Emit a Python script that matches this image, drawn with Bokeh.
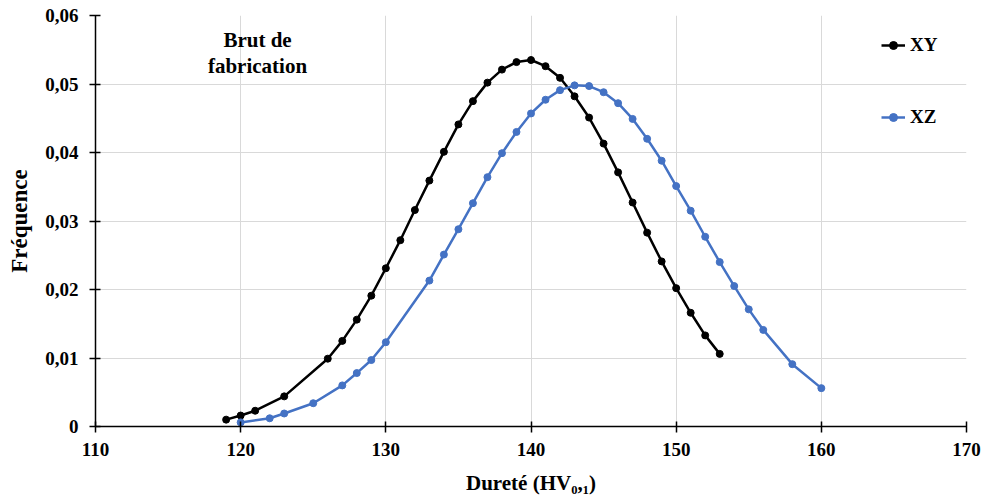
from bokeh.plotting import figure
from bokeh.models import (Legend, LegendItem, Label, FixedTicker,
                          CustomJSTickFormatter, Range1d)
from bokeh.embed import file_html
from bokeh.resources import INLINE

# ---- data ----
xy_x = [119, 120, 121, 123, 126, 127, 128, 129, 130, 131, 132, 133, 134, 135,
        136, 137, 138, 139, 140, 141, 142, 143, 144, 145, 146, 147, 148, 149,
        150, 151, 152, 153]
xy_y = [0.0010, 0.0016, 0.0023, 0.0044, 0.0099, 0.0125, 0.0156, 0.0191,
        0.0231, 0.0272, 0.0316, 0.0359, 0.0401, 0.0441, 0.0475, 0.0502,
        0.0521, 0.0532, 0.0535, 0.0526, 0.0509, 0.0482, 0.0451, 0.0413,
        0.0371, 0.0327, 0.0283, 0.0241, 0.0202, 0.0166, 0.0133, 0.0106]

xz_x = [120, 122, 123, 125, 127, 128, 129, 130, 133, 134, 135, 136, 137, 138,
        139, 140, 141, 142, 143, 144, 145, 146, 147, 148, 149, 150, 151, 152,
        153, 154, 155, 156, 158, 160]
xz_y = [0.0006, 0.0012, 0.0019, 0.0034, 0.0060, 0.0078, 0.0097, 0.0123,
        0.0213, 0.0251, 0.0288, 0.0326, 0.0364, 0.0399, 0.0430, 0.0457,
        0.0477, 0.0491, 0.0498, 0.0497, 0.0488, 0.0472, 0.0449, 0.0420,
        0.0388, 0.0351, 0.0315, 0.0277, 0.0240, 0.0205, 0.0171, 0.0141,
        0.0091, 0.0056]

x_ticks = [110, 120, 130, 140, 150, 160, 170]
y_ticks = [0, 0.01, 0.02, 0.03, 0.04, 0.05, 0.06]

FONT = "Liberation Serif"
BLACK = "#000000"
BLUE = "#4472C4"

p = figure(width=981, height=497, output_backend="svg", toolbar_location=None,
           x_range=Range1d(110, 170), y_range=Range1d(0, 0.06),
           min_border_left=95, min_border_right=15, min_border_top=15,
           min_border_bottom=69)
p.outline_line_color = None

# grid
for g in (p.xgrid, p.ygrid):
    g.grid_line_color = "#d9d9d9"
    g.grid_line_width = 1

# axes
p.xaxis.ticker = FixedTicker(ticks=x_ticks)
p.yaxis.ticker = FixedTicker(ticks=y_ticks)
p.yaxis.formatter = CustomJSTickFormatter(
    code="return tick == 0 ? '0' : tick.toFixed(2).replace('.', ',');")
for ax in (p.xaxis[0], p.yaxis[0]):
    ax.axis_line_color = BLACK
    ax.axis_line_width = 1.5
    ax.major_tick_line_color = BLACK
    ax.major_tick_line_width = 1.5
    ax.major_tick_in = 5
    ax.major_tick_out = 6
    ax.minor_tick_line_color = None
    ax.major_label_text_font = FONT
    ax.major_label_text_font_style = "bold"
    ax.major_label_text_font_size = "19px"
    ax.major_label_text_color = BLACK
    ax.axis_label_text_font = FONT
    ax.axis_label_text_font_style = "bold"
    ax.axis_label_text_color = BLACK
p.xaxis.major_label_standoff = 10
p.yaxis.major_label_standoff = 11
p.yaxis.axis_label = "Fréquence"
p.yaxis.axis_label_text_font_size = "23px"
p.yaxis.axis_label_standoff = 10
p.xaxis.axis_label = "Dureté (HV₀,₁)"
p.xaxis.axis_label_text_font_size = "21px"
p.xaxis.axis_label_standoff = 12

# series
l1 = p.line(xy_x, xy_y, line_color=BLACK, line_width=2.5)
s1 = p.scatter(xy_x, xy_y, size=7, fill_color=BLACK, line_color=BLACK)
l2 = p.line(xz_x, xz_y, line_color=BLUE, line_width=2.5)
s2 = p.scatter(xz_x, xz_y, size=7, fill_color=BLUE, line_color=BLUE)

legend = Legend(items=[LegendItem(label="XY", renderers=[l1, s1]),
                       LegendItem(label="XZ", renderers=[l2, s2])],
                location=(786, 298), margin=0, padding=0, spacing=50,
                glyph_width=24, glyph_height=20, label_height=20,
                label_standoff=5,
                label_text_font=FONT, label_text_font_style="bold",
                label_text_font_size="19px", label_text_color=BLACK,
                background_fill_alpha=0, border_line_color=None)
p.add_layout(legend)

# annotation text
for txt, yy in (("Brut de", 0.0564), ("fabrication", 0.0527)):
    p.add_layout(Label(x=121.16, y=yy, text=txt, text_align="center",
                       text_baseline="middle", text_font=FONT,
                       text_font_style="bold", text_font_size="21px",
                       text_color=BLACK))

open("out.html", "w").write(file_html(p, INLINE))
